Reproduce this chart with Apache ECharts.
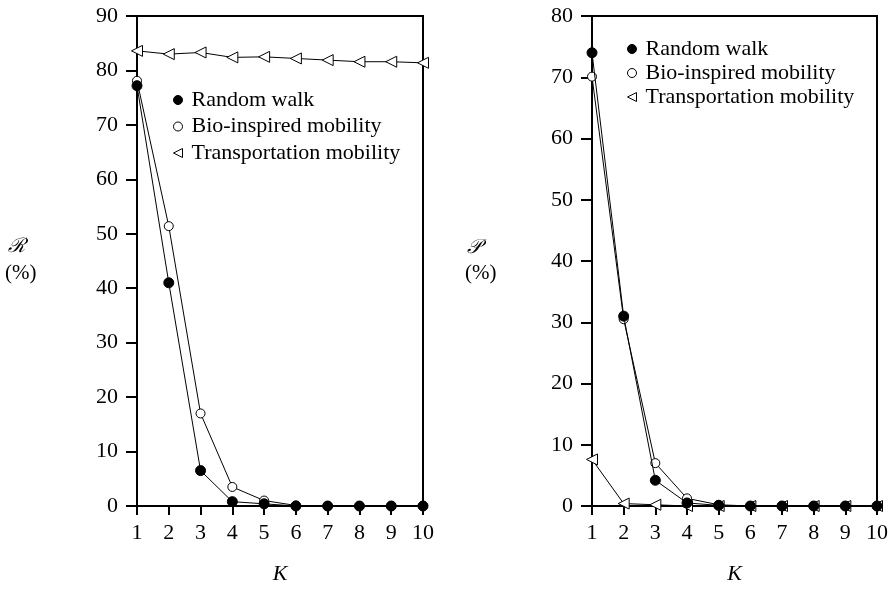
<!DOCTYPE html>
<html>
<head>
<meta charset="utf-8">
<script src="https://cdn.jsdelivr.net/npm/echarts@6/dist/echarts.min.js"></script>
<style>html,body{margin:0;padding:0;background:#fff}#c{width:892px;height:590px}</style>
</head>
<body>
<div id="c"></div>
<script>
const kValues = [1, 2, 3, 4, 5, 6, 7, 8, 9, 10];
const seriesNames = ['Random walk', 'Bio-inspired mobility', 'Transportation mobility'];
// Left panel: R (%)
const recallRandomWalk = [77.2, 41.0, 6.5, 0.8, 0.4, 0, 0, 0, 0, 0];
const recallBio = [78.1, 51.4, 17.0, 3.5, 1.0, 0.1, 0, 0, 0, 0];
const recallTransport = [83.6, 83.0, 83.3, 82.4, 82.5, 82.2, 81.9, 81.6, 81.6, 81.4];
// Right panel: P (%)
const precRandomWalk = [74.0, 31.0, 4.2, 0.5, 0.1, 0, 0, 0, 0, 0];
const precBio = [70.1, 30.5, 7.0, 1.25, 0.2, 0, 0, 0, 0, 0];
const precTransport = [7.6, 0.4, 0.2, 0, 0, 0, 0, 0, 0, 0];
const leftTicks = [0, 10, 20, 30, 40, 50, 60, 70, 80, 90];
const rightTicks = [0, 10, 20, 30, 40, 50, 60, 70, 80];

const FONT = 'Liberation Serif';
const LEFT_TRIANGLE = 'path://M0,5L10,0L10,10Z';
const chart = echarts.init(document.getElementById('c'), null, {renderer: 'canvas'});

function xAxis(gridIndex) {
  return {
    type: 'value', gridIndex, min: 1, max: 10, interval: 1,
    name: 'K', nameLocation: 'middle', nameGap: 57,
    nameTextStyle: {fontFamily: FONT, fontStyle: 'italic', fontSize: 22, color: '#000'},
    axisLine: {lineStyle: {color: '#000', width: 2}},
    axisTick: {inside: false, length: 9, lineStyle: {color: '#000', width: 2}},
    axisLabel: {fontFamily: FONT, fontSize: 22, color: '#000', margin: 16},
    splitLine: {show: false}
  };
}
function yAxis(gridIndex, ticks) {
  return {
    type: 'value', gridIndex, min: ticks[0], max: ticks[ticks.length - 1], interval: ticks[1] - ticks[0],
    axisLine: {show: true, lineStyle: {color: '#000', width: 2}},
    axisTick: {show: true, inside: false, length: 11, lineStyle: {color: '#000', width: 2}},
    axisLabel: {fontFamily: FONT, fontSize: 22, color: '#000', margin: 19},
    splitLine: {show: false}
  };
}
function makeSeries(idx, rw, bio, tr) {
  const common = {type: 'line', xAxisIndex: idx, yAxisIndex: idx, lineStyle: {color: '#000', width: 1}, animation: false};
  return [
    Object.assign({}, common, {name: seriesNames[2], data: kValues.map((k, i) => [k, tr[i]]),
      symbol: LEFT_TRIANGLE, symbolSize: [11, 11], z: 2,
      itemStyle: {color: '#fff', borderColor: '#000', borderWidth: 1}}),
    Object.assign({}, common, {name: seriesNames[1], data: kValues.map((k, i) => [k, bio[i]]),
      symbol: 'circle', symbolSize: 9, z: 3,
      itemStyle: {color: '#fff', borderColor: '#000', borderWidth: 1}}),
    Object.assign({}, common, {name: seriesNames[0], data: kValues.map((k, i) => [k, rw[i]]),
      symbol: 'circle', symbolSize: 10, z: 4,
      itemStyle: {color: '#000', borderColor: '#000', borderWidth: 1}})
  ];
}
function legend(left, top, gap) {
  return {
    orient: 'vertical', left, top, itemGap: gap, itemWidth: 9, itemHeight: 9,
    selectedMode: false,
    textStyle: {fontFamily: FONT, fontSize: 22, color: '#000', lineHeight: 22, padding: [0, 0, 0, 4]},
    data: [
      {name: seriesNames[0], icon: 'circle', itemStyle: {color: '#000', borderColor: '#000', borderWidth: 1}},
      {name: seriesNames[1], icon: 'circle', itemStyle: {color: '#fff', borderColor: '#000', borderWidth: 1}},
      {name: seriesNames[2], icon: LEFT_TRIANGLE, itemStyle: {color: '#fff', borderColor: '#000', borderWidth: 1}}
    ]
  };
}

chart.setOption({
  backgroundColor: '#fff',
  animation: false,
  grid: [
    {left: 137, top: 16, width: 286, height: 490, show: true, borderColor: '#000', borderWidth: 2, backgroundColor: 'transparent'},
    {left: 592, top: 16, width: 285, height: 490, show: true, borderColor: '#000', borderWidth: 2, backgroundColor: 'transparent'}
  ],
  xAxis: [xAxis(0), xAxis(1)],
  yAxis: [yAxis(0, leftTicks), yAxis(1, rightTicks)],
  legend: [legend(168, 84, 4.5), legend(622, 33, 2)],
  title: [
    {text: 'ℛ', left: 8, top: 237, textStyle: {fontFamily: FONT, fontStyle: 'italic', fontWeight: 'normal', fontSize: 20, color: '#000'}, padding: 0},
    {text: '(%)', left: 5, top: 263, textStyle: {fontFamily: FONT, fontWeight: 'normal', fontSize: 21, color: '#000'}, padding: 0},
    {text: '𝒫', left: 467, top: 238, textStyle: {fontFamily: FONT, fontStyle: 'italic', fontWeight: 'normal', fontSize: 20, color: '#000'}, padding: 0},
    {text: '(%)', left: 465, top: 263, textStyle: {fontFamily: FONT, fontWeight: 'normal', fontSize: 21, color: '#000'}, padding: 0}
  ],
  series: [].concat(
    makeSeries(0, recallRandomWalk, recallBio, recallTransport),
    makeSeries(1, precRandomWalk, precBio, precTransport)
  )
});
</script>
</body>
</html>
